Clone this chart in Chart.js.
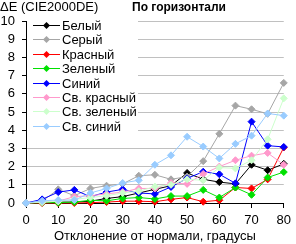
<!DOCTYPE html>
<html><head><meta charset="utf-8">
<script src="https://cdn.jsdelivr.net/npm/chart.js@4/dist/chart.umd.min.js"></script>
<style>
body{margin:0;background:#fff;}
#wrap{position:relative;width:296px;height:244px;overflow:hidden;}
canvas{position:absolute;left:0;top:0;}
.t{position:absolute;font-family:"Liberation Sans",Arial,sans-serif;font-size:13px;white-space:nowrap;line-height:14px;color:#000;}
</style></head><body>
<div id="wrap"><canvas id="c" width="296" height="244"></canvas>
<div class="t" style="left:0;top:0;">ΔE (CIE2000DE)</div>
<div class="t" style="left:132px;top:0;font-weight:bold;font-size:12px;">По горизонтали</div>
</div>
<script>
const angles = [0,5,10,15,20,25,30,35,40,45,50,55,60,65,70,75,80];
const seriesNames = ["Белый","Серый","Красный","Зеленый","Синий","Св. красный","Св. зеленый","Св. синий"];
const white   = [0,0.05,0.05,0.05,0.1,0.25,0.35,0.55,0.75,0.95,1.65,1.3,1.15,1.05,2.1,1.8,2.15];
const gray    = [0,0.1,0.75,0.4,0.8,0.95,1.05,1.5,1.55,1.3,1.45,2.3,3.8,5.35,5.15,4.9,6.6];
const red     = [0,0,0,0,0.02,0.05,0.1,0.1,0.07,0.2,0.3,0.07,0.15,0.85,0.8,1.3,3.05];
const green   = [0,0.02,0.02,0.05,0.15,0.12,0.25,0.3,0.22,0.38,0.38,0.72,0.3,0.85,0.45,1.4,1.7];
const blue    = [0,0.2,0.6,0.72,0.35,0.6,0.75,0.55,0.5,0.88,1.35,1.72,1.58,1.08,4.47,3.15,3.08];
const ltRed   = [0,0.05,0.1,0.35,0.4,0.5,0.6,0.8,0.8,1.1,1.05,1.6,2.0,2.35,2.6,2.75,2.1];
const ltGreen = [0,0.05,0.1,0.2,0.3,0.4,0.55,0.65,0.9,1.0,1.3,1.25,1.95,1.9,2.35,3.5,5.75];
const ltBlue  = [0,0.12,0.16,0.16,0.55,0.8,1.1,1.25,2.1,2.62,3.64,3.1,2.45,3.25,3.7,4.92,4.8];
const yTicks = [0,1,2,3,4,5,6,7,8,9,10];
const xTicks = [0,10,20,30,40,50,60,70,80];
const xTitle = "Отклонение от нормали, градусы";

const allValues = [white,gray,red,green,blue,ltRed,ltGreen,ltBlue];
const colors = ["#000000","#a6a6a6","#ff0000","#00e000","#0000ff","#ff99cc","#ccffcc","#99ccff"];
const FONT = '"Liberation Sans", Arial, sans-serif';

const datasets = allValues.map((vals,i)=>({
  label: seriesNames[i],
  data: angles.map((a,j)=>({x:a,y:vals[j]})),
  borderColor: colors[i],
  backgroundColor: colors[i],
  borderWidth: 1,
  pointStyle: 'rectRot',
  pointRadius: 3.5,
  pointBorderWidth: 1,
  tension: 0,
  clip: false,
  order: 10 - i
}));

const legendPlugin = {
  id: 'boxLegend',
  afterDraw(chart){
    const ctx = chart.ctx;
    ctx.save();
    ctx.fillStyle = '#fff';
    ctx.fillRect(27, 15, 111, 117);
    ctx.font = '13px ' + FONT;
    ctx.textBaseline = 'middle';
    ctx.textAlign = 'left';
    chart.data.datasets.forEach((ds,i)=>{
      const y = Math.round(25 + i*14.4) + 0.5;
      ctx.strokeStyle = ds.borderColor;
      ctx.lineWidth = 1;
      ctx.beginPath(); ctx.moveTo(33,y); ctx.lineTo(60,y); ctx.stroke();
      ctx.fillStyle = ds.borderColor;
      ctx.beginPath();
      ctx.moveTo(46.5,y-3.5); ctx.lineTo(50,y); ctx.lineTo(46.5,y+3.5); ctx.lineTo(43,y); ctx.closePath();
      ctx.fill();
      ctx.fillStyle = '#000';
      ctx.fillText(ds.label, 62, y+0.5);
    });
    ctx.restore();
  }
};

new Chart(document.getElementById('c'), {
  type: 'line',
  data: { datasets },
  options: {
    responsive: false,
    animation: false,
    devicePixelRatio: 1,
    layout: { autoPadding: false, padding: { top: 21, right: 6, left: 0, bottom: 0 } },
    plugins: { legend: { display: false }, title: { display: false }, tooltip: { enabled: false } },
    scales: {
      x: {
        type: 'linear', min: 0, max: 80,
        afterBuildTicks: s => { s.ticks = xTicks.map(v=>({value:v})); },
        afterFit: s => { s.height = 41; },
        grid: { drawOnChartArea: false, drawTicks: true, tickLength: 5, tickColor: '#000' },
        border: { color: '#000', width: 1 },
        ticks: { color: '#000', font: { family: FONT, size: 13 }, padding: 5, maxRotation: 0, autoSkip: false },
        title: { display: true, text: xTitle, color: '#000', font: { family: FONT, size: 13 }, padding: { top: 0, bottom: 0 } }
      },
      y: {
        min: 0, max: 10,
        afterBuildTicks: s => { s.ticks = yTicks.map(v=>({value:v})); },
        afterFit: s => { s.width = 26; },
        grid: { color: '#c0c0c0', drawTicks: true, tickLength: 4, tickColor: '#000' },
        border: { color: '#000', width: 1 },
        ticks: { color: '#000', font: { family: FONT, size: 13 }, padding: 7, autoSkip: false }
      }
    }
  },
  plugins: [legendPlugin]
});
</script>
</body></html>
